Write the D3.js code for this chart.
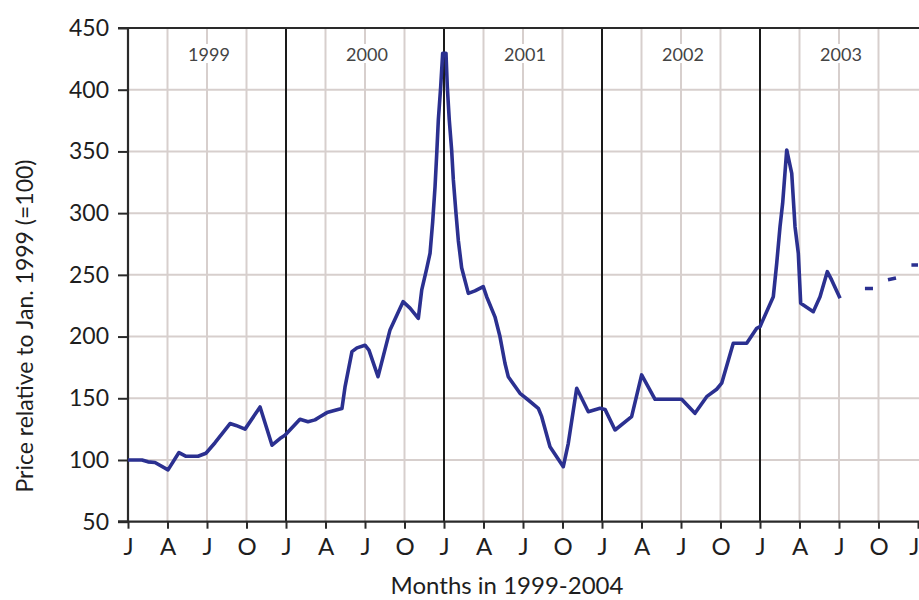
<!DOCTYPE html>
<html>
<head>
<meta charset="utf-8">
<script src="https://cdn.jsdelivr.net/npm/d3@7"></script>
<style>
  html, body { margin: 0; padding: 0; background: #fff; }
  svg { display: block; }
  text { font-family: Lato, "Open Sans", sans-serif; }
</style>
</head>
<body>
<script>
// ---- data (month index from Jan 1999 = 0) ----
const months = [0, 1.06, 1.52, 2.05, 3.04, 3.87, 4.41, 5.32, 5.92, 6.61, 7.75, 8.2, 8.89, 10.03, 10.94, 11.54, 11.92,
  13.06, 13.67, 14.2, 14.58, 15.11, 15.95, 16.25, 16.48, 17.01, 17.39, 18.0, 18.3, 18.99, 19.9, 20.89, 21.42, 22.05,
  22.31, 22.69, 22.94, 23.14, 23.32, 23.45, 23.57, 23.75, 23.9, 24.15, 24.25, 24.4, 24.58, 24.71, 24.91, 25.09, 25.34,
  25.85, 26.35, 26.98, 27.24, 27.87, 28.25, 28.63, 28.88, 29.77, 30.4, 31.16, 31.42, 32.05, 33.06, 33.44, 34.08, 34.96,
  35.85, 36.23, 36.99, 38.25, 39.01, 40.03, 42.05, 43.06, 43.95, 44.71, 45.09, 45.97, 46.99, 47.75, 48.0, 49.01, 49.27,
  49.52, 49.72, 50.03, 50.41, 50.66, 50.91, 51.09, 52.05, 52.56, 53.11, 53.44, 54.08];
const prices = [100, 100, 98.5, 98, 92, 106, 103, 103, 105.5, 114, 129.5, 128, 125, 143, 112, 117.4, 120,
  133, 131, 132.5, 135, 138.4, 140.9, 141.7, 159, 187.8, 190.8, 193, 189, 167.5, 205.4, 228.3, 223, 214.8,
  237.8, 255.3, 267.5, 293, 321.5, 348.5, 375.5, 402.5, 429.6, 429.6, 402.5, 375.5, 351.2, 326.9, 300, 277.7, 255.8,
  235, 237, 240.5, 232.3, 216, 200, 178.4, 167.5, 154, 148.6, 141.9, 135.1, 110.8, 94.6, 113.5, 158.1, 139.1,
  141.9, 141, 124.3, 135.1, 168.9, 149.2, 149.2, 137.8, 151.3, 157.3, 162.2, 194.6, 194.6, 206.7, 208, 232.3, 259.4,
  289, 308, 351.2, 332.3, 289, 267.5, 227, 220.2, 232.3, 252.6, 245.9, 231];
// projected (dashed) part
const projMonths = [55.97, 56.58, null, 57.72, 58.33, null, 59.5, 60.0];
const projPrices = [239, 239, null, 246, 247.5, null, 258, 258];

const yTicks = [50, 100, 150, 200, 250, 300, 350, 400, 450];
const quarterTicks = [0, 3, 6, 9, 12, 15, 18, 21, 24, 27, 30, 33, 36, 39, 42, 45, 48, 51, 54, 57, 60];
const xTickLabels = ["J","A","J","O","J","A","J","O","J","A","J","O","J","A","J","O","J","A","J","O","J"];
const yearLabels = ["1999", "2000", "2001", "2002", "2003"];
const yTitle = "Price relative to Jan. 1999 (=100)";
const xTitle = "Months in 1999-2004";

// ---- layout ----
const W = 919, H = 600;
const x = d3.scaleLinear().domain([0, 60]).range([128, 918]);
const y = d3.scaleLinear().domain([50, 450]).range([521.7, 28]);

const svg = d3.select("body").append("svg").attr("width", W).attr("height", H);
svg.append("rect").attr("width", W).attr("height", H).attr("fill", "#fff");

const gridCol = "#d7cfcd";
// horizontal grid
svg.append("g").selectAll("line").data(yTicks.filter(d => d > 50 && d < 450)).join("line")
  .attr("x1", x(0)).attr("x2", W).attr("y1", d => y(d)).attr("y2", d => y(d))
  .attr("stroke", gridCol).attr("stroke-width", 2);
// vertical minor grid (quarters)
svg.append("g").selectAll("line").data(quarterTicks.filter(d => d % 12 !== 0)).join("line")
  .attr("x1", d => x(d)).attr("x2", d => x(d)).attr("y1", y(450)).attr("y2", y(50))
  .attr("stroke", gridCol).attr("stroke-width", 2);

// year labels with white boxes
const yl = svg.append("g");
yearLabels.forEach((lab, i) => {
  const cx = x(12 * i + 6) + 2;
  yl.append("rect").attr("x", cx - 21).attr("y", 44).attr("width", 42).attr("height", 19).attr("fill", "#fff");
  yl.append("text").attr("x", cx).attr("y", 60.5).attr("text-anchor", "middle")
    .attr("font-size", 18).attr("fill", "#444").text(lab);
});

// January year dividers
svg.append("g").selectAll("line").data(quarterTicks.filter(d => d % 12 === 0 && d > 0 && d < 60)).join("line")
  .attr("x1", d => x(d)).attr("x2", d => x(d)).attr("y1", y(450)).attr("y2", y(50))
  .attr("stroke", "#1a1a1a").attr("stroke-width", 2);

// top border
svg.append("line").attr("x1", 118).attr("x2", W).attr("y1", y(450)).attr("y2", y(450))
  .attr("stroke", "#2a2a2a").attr("stroke-width", 2.2);

// axes
const yAxis = svg.append("g").attr("transform", `translate(${x(0)},0)`)
  .call(d3.axisLeft(y).tickValues(yTicks).tickSize(10).tickPadding(9).tickFormat(d3.format("d")));
const xAxis = svg.append("g").attr("transform", `translate(0,${y(50)})`)
  .call(d3.axisBottom(x).tickValues(quarterTicks).tickSize(7).tickPadding(9).tickFormat((d, i) => xTickLabels[i]));
[yAxis, xAxis].forEach(g => {
  g.select(".domain").attr("stroke", "#2a2a2a").attr("stroke-width", 2.2);
  g.selectAll(".tick line").attr("stroke", "#2a2a2a").attr("stroke-width", 2);
  g.selectAll(".tick text").attr("fill", "#1e1e1e").style("font-family", "Lato, sans-serif");
});
yAxis.select(".domain").attr("d", `M-10,${y(450)}H0V${y(50)}H-10`);
yAxis.selectAll(".tick text").attr("font-size", 23);
xAxis.select(".domain").attr("d", `M118,0H${W}`);
xAxis.selectAll(".tick text").attr("font-size", 24);
// keep the last "J" inside the picture
xAxis.selectAll(".tick text").filter(d => d === 60).attr("text-anchor", "end").attr("x", 1);

// data line
const line = d3.line().x(d => x(d[0])).y(d => y(d[1]));
svg.append("path").datum(months.map((m, i) => [m, prices[i]]))
  .attr("fill", "none").attr("stroke", "#2b3090").attr("stroke-width", 3.6)
  .attr("stroke-linejoin", "round").attr("d", line);

const pline = d3.line().defined(d => d[0] !== null).x(d => x(d[0])).y(d => y(d[1]));
svg.append("path").datum(projMonths.map((m, i) => [m, projPrices[i]]))
  .attr("fill", "none").attr("stroke", "#2b3090").attr("stroke-width", 3.6).attr("d", pline);

// titles
svg.append("text").attr("transform", `translate(33,${326}) rotate(-90)`).attr("text-anchor", "middle")
  .attr("font-size", 23).attr("fill", "#1e1e1e").text(yTitle);
svg.append("text").attr("x", 507).attr("y", 594).attr("text-anchor", "middle")
  .attr("font-size", 24).attr("fill", "#1e1e1e").text(xTitle);
</script>
</body>
</html>
